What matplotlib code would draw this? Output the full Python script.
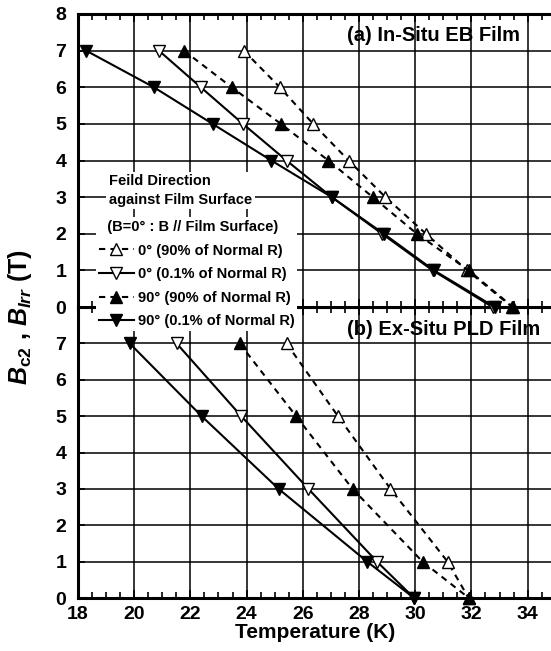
import numpy as np
import matplotlib.pyplot as plt

plt.rcParams['font.family'] = ['Liberation Sans', 'DejaVu Sans']
plt.rcParams['font.weight'] = 'bold'
plt.rcParams['mathtext.fontset'] = 'custom'
plt.rcParams['mathtext.it'] = 'Liberation Sans:italic:bold'
plt.rcParams['mathtext.rm'] = 'Liberation Sans:bold'
plt.rcParams['mathtext.bf'] = 'Liberation Sans:bold'

#Field values (T) shared by the series
fieldTop = [7, 6, 5, 4, 3, 2, 1, 0]
fieldBottom = [7, 5, 3, 1, 0]

#(a) In-Situ EB film temperatures (K)
topPar90 = [23.9, 25.18, 26.37, 27.63, 28.94, 30.38, 31.85, 33.45]
topPar01 = [20.88, 22.37, 23.87, 25.42, 27.03, 28.82, 30.62, 32.75]
topPerp90 = [21.77, 23.47, 25.22, 26.91, 28.49, 30.06, 31.9, 33.48]
topPerp01 = [18.29, 20.7, 22.79, 24.88, 27.03, 28.88, 30.67, 32.83]

#(b) Ex-Situ PLD film temperatures (K)
bottomPar90 = [25.42, 27.25, 29.12, 31.15, 31.9]
bottomPar01 = [21.51, 23.81, 26.2, 28.64, 29.96]
bottomPerp90 = [23.75, 25.76, 27.77, 30.26, 31.91]
bottomPerp01 = [19.84, 22.4, 25.14, 28.29, 29.96]

seriesLabels = ['0° (90% of Normal R)', '0° (0.1% of Normal R)',
                '90° (90% of Normal R)', '90° (0.1% of Normal R)']
panelTitles = ['(a) In-Situ EB Film', '(b) Ex-Situ PLD Film']

#Marker, fill and line style per series
seriesStyles = [('^', 'white', (0, (3, 2.5))), ('v', 'white', '-'),
                ('^', 'black', (0, (3, 2.5))), ('v', 'black', '-')]


#Draw one panel with the four series and its grid
def drawPanel(ax, fieldValues, seriesTemps, panelTitle, showTopLabel, titleY):
    handles = []
    for temps, (marker, face, style), label in zip(seriesTemps, seriesStyles, seriesLabels):
        h, = ax.plot(temps, fieldValues, linestyle=style, color='black', linewidth=1.5,
                     marker=marker, markersize=8.5, markerfacecolor=face,
                     markeredgecolor='black', markeredgewidth=1.0, label=label, zorder=3,
                     clip_on=False)
        handles.append(h)
    ax.set_xlim(18, 34.9)
    ax.set_ylim(0, 8)
    ax.set_xticks(np.arange(18, 35, 2))
    ax.set_xticks(np.arange(18, 35, 0.5), minor=True)
    ax.set_yticks(np.arange(0, 9 if showTopLabel else 8, 1))
    ax.grid(True, which='major', color='black', linewidth=1.1)
    ax.set_axisbelow(True)
    ax.tick_params(axis='x', which='both', direction='in', top=True, bottom=True, pad=6)
    ax.tick_params(axis='x', which='major', length=6, width=1.2)
    ax.tick_params(axis='x', which='minor', length=4, width=1.2)
    ax.tick_params(axis='y', direction='in', length=5, width=1.2, right=False, pad=8.5)
    ax.tick_params(labelsize=14)
    for side in ['left', 'top', 'bottom']:
        ax.spines[side].set_linewidth(2.2)
    ax.spines['right'].set_visible(False)
    ax.text(0.566, titleY, panelTitle, transform=ax.transAxes, ha='left', va='top',
            fontsize=14.5, fontweight='bold', zorder=5)
    return handles


fig = plt.figure(figsize=(5.51, 6.51), dpi=100)
axTop = fig.add_axes([0.1415, 0.5284, 0.862, 0.4501])
axBottom = fig.add_axes([0.1415, 0.0814, 0.862, 0.447])

topHandles = drawPanel(axTop, fieldTop, [topPar90, topPar01, topPerp90, topPerp01], panelTitles[0], True, 0.958)
drawPanel(axBottom, fieldBottom, [bottomPar90, bottomPar01, bottomPerp90, bottomPerp01], panelTitles[1], False, 0.955)
axTop.tick_params(axis='x', labelbottom=False)
axTop.set_zorder(3)

#Legend heading, drawn over the grid
axTop.text(0.0653, 0.3976, 'Feild Direction\nagainst Film Surface', transform=axTop.transAxes,
           ha='left', va='center', fontsize=10.5, fontweight='bold', linespacing=1.4, zorder=6,
           bbox=dict(facecolor='white', edgecolor='none', pad=2))

legend = axTop.legend(handles=topHandles, loc='upper left', bbox_to_anchor=(0.0379, 0.307),
                      borderaxespad=0, title='  (B=0° : B // Film Surface)',
                      prop={'size': 10.5, 'weight': 'bold'}, frameon=True, fancybox=False,
                      handlelength=2.4, handletextpad=0.25, labelspacing=0.66, borderpad=0.2,
                      alignment='left')
legend.get_title().set_fontsize(10.5)
legend.get_title().set_fontweight('bold')
legend.get_frame().set_facecolor('white')
legend.get_frame().set_edgecolor('none')
legend.get_frame().set_alpha(1)
legend.set_zorder(6)

axBottom.set_xlabel('Temperature (K)', fontsize=15, fontweight='bold', labelpad=0)
fig.text(0.037, 0.513, r'$B_{\mathrm{c2}}$ , $B_{Irr}$ (T)', rotation=90, ha='center', va='center',
         fontsize=18)

plt.savefig('out.png', dpi=100)
